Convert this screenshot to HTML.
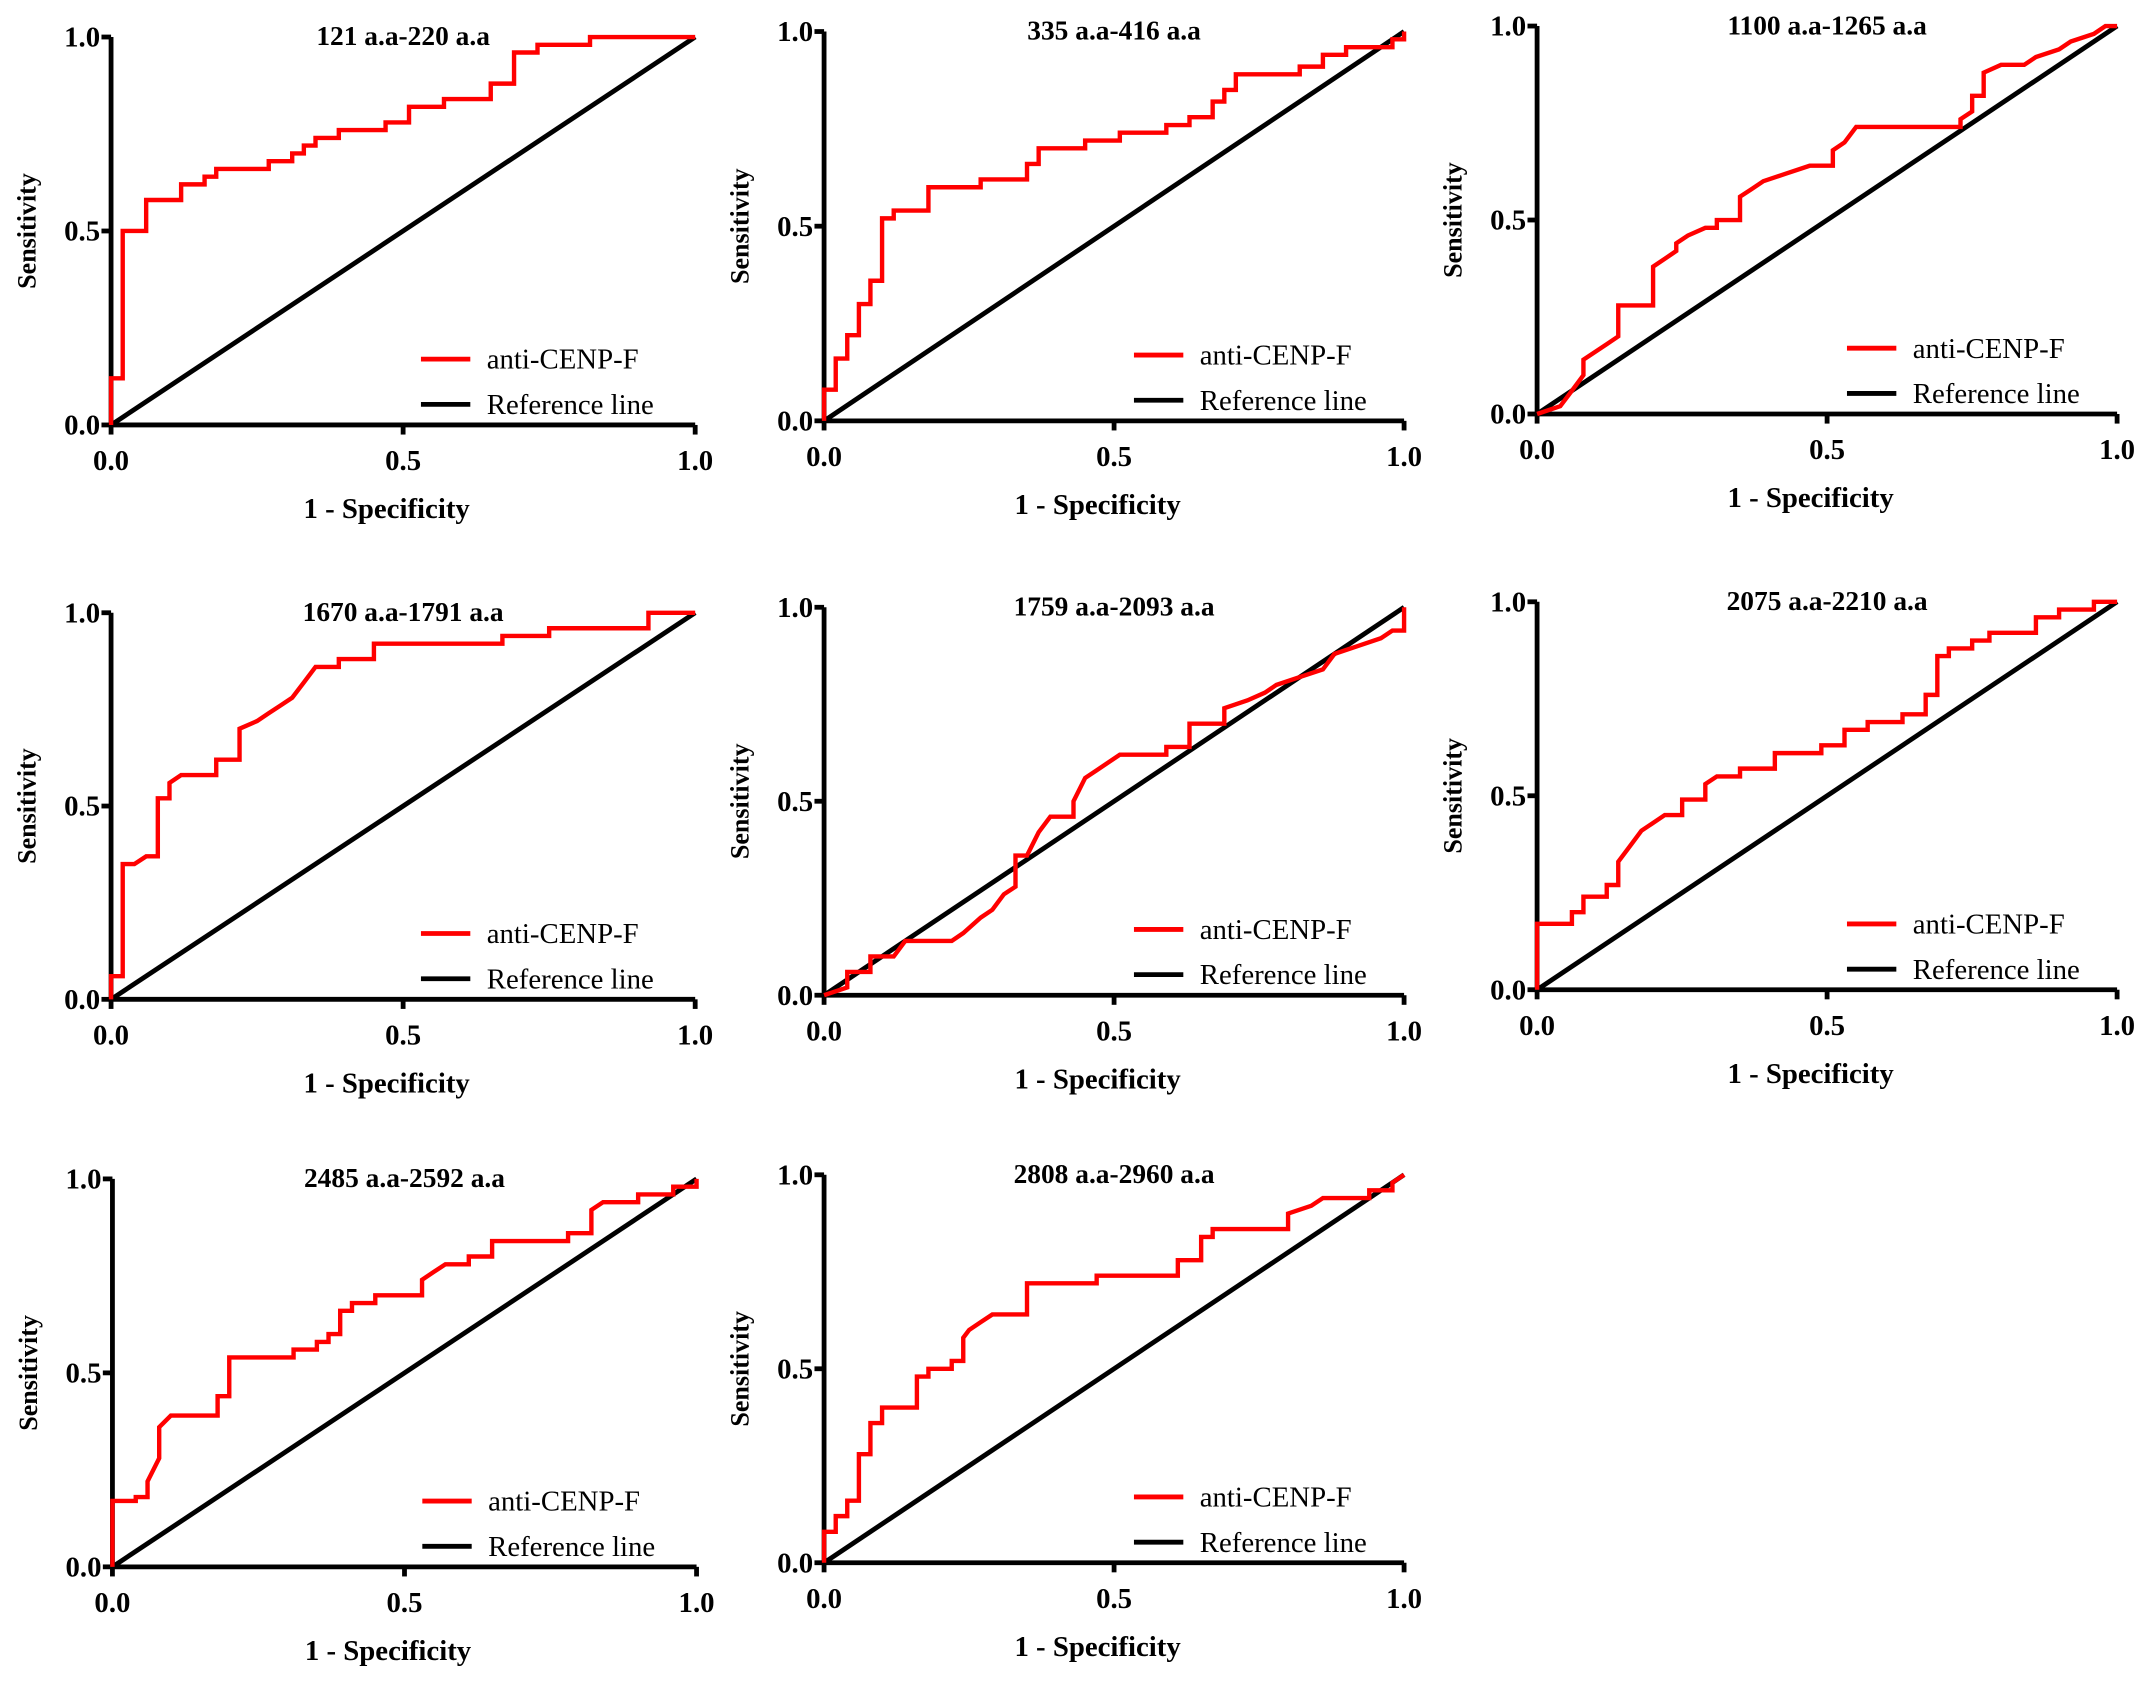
<!DOCTYPE html>
<html><head><meta charset="utf-8"><style>
html,body{margin:0;padding:0;background:#fff;}
svg{display:block;}
text{font-family:"Liberation Serif",serif;}
</style></head><body>
<svg id="chart" width="2150" height="1682" viewBox="0 0 1568 1227" preserveAspectRatio="none" xmlns="http://www.w3.org/2000/svg"></svg>
<script>
const titles = ["121 a.a-220 a.a","335 a.a-416 a.a","1100 a.a-1265 a.a","1670 a.a-1791 a.a","1759 a.a-2093 a.a","2075 a.a-2210 a.a","2485 a.a-2592 a.a","2808 a.a-2960 a.a"];
const tickValues = [0, 0.5, 1];
const tickLabels = ["0.0","0.5","1.0"];
const fpr1=[0,0,0.02,0.02,0.06,0.06,0.12,0.12,0.16,0.16,0.18,0.18,0.27,0.27,0.31,0.31,0.33,0.33,0.35,0.35,0.39,0.39,0.47,0.47,0.51,0.51,0.57,0.57,0.65,0.65,0.69,0.69,0.73,0.73,0.82,0.82,1];
const tpr1=[0,0.12,0.12,0.5,0.5,0.58,0.58,0.62,0.62,0.64,0.64,0.66,0.66,0.68,0.68,0.70,0.70,0.72,0.72,0.74,0.74,0.76,0.76,0.78,0.78,0.82,0.82,0.84,0.84,0.88,0.88,0.96,0.96,0.98,0.98,1,1];
const fpr2=[0,0,0.02,0.02,0.04,0.04,0.06,0.06,0.08,0.08,0.1,0.1,0.12,0.12,0.18,0.18,0.27,0.27,0.35,0.35,0.37,0.37,0.45,0.45,0.51,0.51,0.59,0.59,0.63,0.63,0.67,0.67,0.69,0.69,0.71,0.71,0.82,0.82,0.86,0.86,0.9,0.9,0.98,0.98,1,1];
const tpr2=[0,0.08,0.08,0.16,0.16,0.22,0.22,0.3,0.3,0.36,0.36,0.52,0.52,0.54,0.54,0.6,0.6,0.62,0.62,0.66,0.66,0.7,0.7,0.72,0.72,0.74,0.74,0.76,0.76,0.78,0.78,0.82,0.82,0.85,0.85,0.89,0.89,0.91,0.91,0.94,0.94,0.96,0.96,0.98,0.98,1];
const fpr3=[0,0.04,0.06,0.08,0.08,0.1,0.12,0.14,0.14,0.2,0.2,0.22,0.24,0.24,0.26,0.29,0.31,0.31,0.35,0.35,0.37,0.39,0.43,0.47,0.51,0.51,0.53,0.55,0.73,0.73,0.75,0.75,0.77,0.77,0.8,0.84,0.86,0.9,0.92,0.96,0.98,1];
const tpr3=[0,0.02,0.06,0.1,0.14,0.16,0.18,0.2,0.28,0.28,0.38,0.4,0.42,0.44,0.46,0.48,0.48,0.5,0.5,0.56,0.58,0.6,0.62,0.64,0.64,0.68,0.7,0.74,0.74,0.76,0.78,0.82,0.82,0.88,0.9,0.9,0.92,0.94,0.96,0.98,1,1];
const fpr4=[0,0,0.02,0.02,0.04,0.06,0.08,0.08,0.1,0.1,0.12,0.18,0.18,0.22,0.22,0.25,0.27,0.29,0.31,0.33,0.35,0.39,0.39,0.45,0.45,0.67,0.67,0.75,0.75,0.92,0.92,1];
const tpr4=[0,0.06,0.06,0.35,0.35,0.37,0.37,0.52,0.52,0.56,0.58,0.58,0.62,0.62,0.7,0.72,0.74,0.76,0.78,0.82,0.86,0.86,0.88,0.88,0.92,0.92,0.94,0.94,0.96,0.96,1,1];
const fpr5=[0,0.04,0.04,0.08,0.08,0.12,0.14,0.22,0.24,0.27,0.29,0.31,0.33,0.33,0.35,0.37,0.39,0.43,0.43,0.45,0.47,0.49,0.51,0.59,0.59,0.63,0.63,0.69,0.69,0.73,0.76,0.78,0.82,0.86,0.88,0.92,0.96,0.98,1,1];
const tpr5=[0,0.02,0.06,0.06,0.1,0.1,0.14,0.14,0.16,0.2,0.22,0.26,0.28,0.36,0.36,0.42,0.46,0.46,0.5,0.56,0.58,0.6,0.62,0.62,0.64,0.64,0.7,0.7,0.74,0.76,0.78,0.8,0.82,0.84,0.88,0.9,0.92,0.94,0.94,1];
const fpr6=[0,0,0.06,0.06,0.08,0.08,0.12,0.12,0.14,0.14,0.16,0.18,0.2,0.22,0.25,0.25,0.29,0.29,0.31,0.35,0.35,0.41,0.41,0.49,0.49,0.53,0.53,0.57,0.57,0.63,0.63,0.67,0.67,0.69,0.69,0.71,0.71,0.75,0.75,0.78,0.78,0.86,0.86,0.9,0.9,0.96,0.96,1];
const tpr6=[0,0.17,0.17,0.2,0.2,0.24,0.24,0.27,0.27,0.33,0.37,0.41,0.43,0.45,0.45,0.49,0.49,0.53,0.55,0.55,0.57,0.57,0.61,0.61,0.63,0.63,0.67,0.67,0.69,0.69,0.71,0.71,0.76,0.76,0.86,0.86,0.88,0.88,0.9,0.9,0.92,0.92,0.96,0.96,0.98,0.98,1,1];
const fpr7=[0,0,0.04,0.04,0.06,0.06,0.08,0.08,0.1,0.18,0.18,0.2,0.2,0.31,0.31,0.35,0.35,0.37,0.37,0.39,0.39,0.41,0.41,0.45,0.45,0.53,0.53,0.55,0.57,0.61,0.61,0.65,0.65,0.78,0.78,0.82,0.82,0.84,0.9,0.9,0.96,0.96,1,1];
const tpr7=[0,0.17,0.17,0.18,0.18,0.22,0.28,0.36,0.39,0.39,0.44,0.44,0.54,0.54,0.56,0.56,0.58,0.58,0.6,0.6,0.66,0.66,0.68,0.68,0.7,0.7,0.74,0.76,0.78,0.78,0.8,0.8,0.84,0.84,0.86,0.86,0.92,0.94,0.94,0.96,0.96,0.98,0.98,1];
const fpr8=[0,0,0.02,0.02,0.04,0.04,0.06,0.06,0.08,0.08,0.1,0.1,0.16,0.16,0.18,0.18,0.22,0.22,0.24,0.24,0.25,0.27,0.29,0.35,0.35,0.47,0.47,0.61,0.61,0.65,0.65,0.67,0.67,0.8,0.8,0.84,0.86,0.94,0.94,0.98,0.98,1];
const tpr8=[0,0.08,0.08,0.12,0.12,0.16,0.16,0.28,0.28,0.36,0.36,0.4,0.4,0.48,0.48,0.5,0.5,0.52,0.52,0.58,0.6,0.62,0.64,0.64,0.72,0.72,0.74,0.74,0.78,0.78,0.84,0.84,0.86,0.86,0.9,0.92,0.94,0.94,0.96,0.96,0.98,1];
const fprs=[fpr1,fpr2,fpr3,fpr4,fpr5,fpr6,fpr7,fpr8];
const tprs=[tpr1,tpr2,tpr3,tpr4,tpr5,tpr6,tpr7,tpr8];
const frames=[[81,507,27,310],[601,1024,23,307],[1121,1544,19,302],[81,507,447,729],[601,1024,443,726],[1121,1544,439,722],[82,508,860,1143],[601,1024,857,1140]];
const NS="http://www.w3.org/2000/svg";
const svg=document.getElementById('chart');
function mk(tag,attrs,parent){const e=document.createElementNS(NS,tag);for(const k in attrs)e.setAttribute(k,attrs[k]);(parent||svg).appendChild(e);return e;}
frames.forEach((f,i)=>{
  const [x0,x1,y1,y0]=f;
  const sx=v=>x0+v*(x1-x0), sy=v=>y0-v*(y0-y1);
  const g=mk('g',{});
  
  
  const ax=mk('path',{d:`M${x0},${y1}V${y0}H${x1}`,stroke:'#000','stroke-width':3.5,fill:'none'},g);
  
  
  tickValues.forEach((t,j)=>{
    mk('line',{x1:x0-7,x2:x0,y1:sy(t),y2:sy(t),stroke:'#000','stroke-width':3.5},g);
    mk('line',{x1:sx(t),x2:sx(t),y1:y0,y2:y0+7,stroke:'#000','stroke-width':3.5},g);
    const yl=mk('text',{x:x0-8,y:sy(t)+7,'text-anchor':'end','font-size':21,'font-weight':'bold'},g);
    yl.textContent=tickLabels[j];
    
    
    const xl=mk('text',{x:sx(t),y:y0+33,'text-anchor':'middle','font-size':21,'font-weight':'bold'},g);
    xl.textContent=tickLabels[j];
    
    
  });
  const yt=mk('text',{x:0,y:0,'text-anchor':'middle','font-size':19,'font-weight':'bold',transform:`translate(${x0-55},${(y0+y1)/2}) rotate(-90)`},g);
  yt.textContent='Sensitivity';
  
  
  const xt=mk('text',{x:(x0+x1)/2-12,y:y0+68,'text-anchor':'middle','font-size':21,'font-weight':'bold'},g);
  xt.textContent='1 - Specificity';
  
  
  const tt=mk('text',{x:(x0+x1)/2,y:y1+6,'text-anchor':'middle','font-size':20,'font-weight':'bold'},g);
  tt.textContent=titles[i];
  
  
  const ref=mk('line',{x1:sx(0),y1:sy(0),x2:sx(1),y2:sy(1),stroke:'#000','stroke-width':3.5},g);
  
  
  const pts=fprs[i].map((v,k)=>sx(v).toFixed(1)+','+sy(tprs[i][k]).toFixed(1)).join(' ');
  const roc=mk('polyline',{points:pts,stroke:'#ff0000','stroke-width':3.2,fill:'none'},g);
  
  
  const ly1=y0-48, ly2=y0-15;
  mk('line',{x1:x0+226,x2:x0+262,y1:ly1,y2:ly1,stroke:'#ff0000','stroke-width':3.5},g);
  const l1=mk('text',{x:x0+274,y:ly1+7,'font-size':21},g);
  l1.textContent='anti-CENP-F';
  
  
  mk('line',{x1:x0+226,x2:x0+262,y1:ly2,y2:ly2,stroke:'#000','stroke-width':3.5},g);
  const l2=mk('text',{x:x0+274,y:ly2+7,'font-size':21},g);
  l2.textContent='Reference line';
  
  
});
</script>
</body></html>
